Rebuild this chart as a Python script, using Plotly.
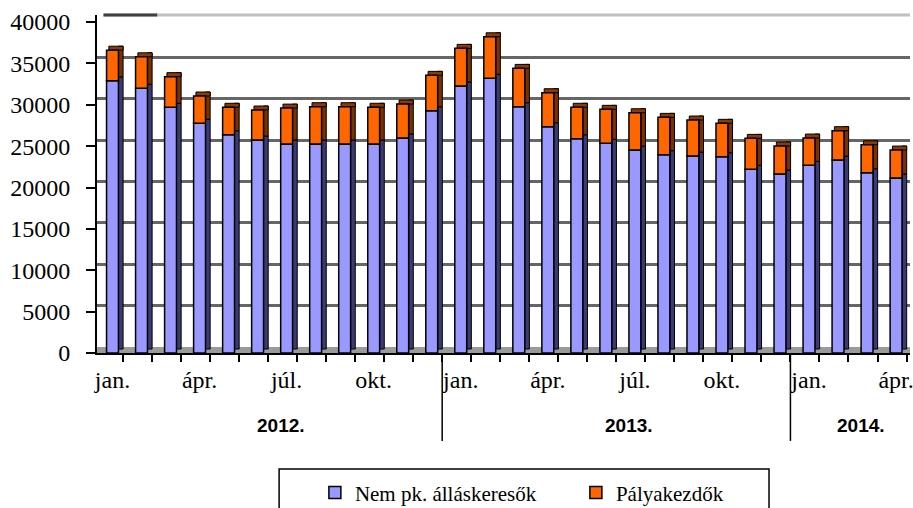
import numpy as np
import plotly.graph_objects as go

# ---------------- data ----------------
month_names = ['jan.', 'febr.', 'márc.', 'ápr.', 'máj.', 'jún.',
               'júl.', 'aug.', 'szept.', 'okt.', 'nov.', 'dec.']
years = ['2012.'] * 12 + ['2013.'] * 12 + ['2014.'] * 4
months = month_names * 2 + month_names[:4]

nem_pk = [32900, 32000, 29700, 27760, 26380, 25740, 25260, 25260, 25260, 25260, 25980, 29280,
          32270, 33200, 29770, 27350, 25900, 25340, 24530, 23970, 23810, 23720, 22200, 21630,
          22680, 23320, 21790, 21150]
palyakezdok = [3700, 3800, 3700, 3300, 3320, 3630, 4340, 4510, 4510, 4440, 4110, 4280,
               4550, 5020, 4630, 4110, 3800, 4110, 4510, 4510, 4350, 4040, 3740, 3390,
               3300, 3550, 3380, 3380]

y_ticks = [0, 5000, 10000, 15000, 20000, 25000, 30000, 35000, 40000]
labelled_months = ['jan.', 'ápr.', 'júl.', 'okt.']

# ---------------- derived ----------------
n = len(months)
x = np.arange(n)
blue = np.array(nem_pk, dtype=float)
orange = np.array(palyakezdok, dtype=float)
total = blue + orange

DEPTH = 480          # 3-D depth in value units
WALL = 725           # back-wall shift in value units
FW = 0.41            # front face width
SW = 0.16            # side face width
SEP = 0.36           # category boundary offset from bar centre
SERIF = "Liberation Serif"
XRANGE = [-0.534, 27.48]
YMAX = 40850

tick_idx = [i for i, m in enumerate(months) if m in labelled_months]
tick_txt = [months[i] for i in tick_idx]

fig = go.Figure()

# side faces (3-D effect)
fig.add_trace(go.Bar(x=x, y=blue, base=np.full(n, DEPTH), offset=FW / 2, width=SW,
                     marker=dict(color='#3b3b73', line=dict(color='black', width=1)),
                     showlegend=False, hoverinfo='skip'))
fig.add_trace(go.Bar(x=x, y=orange, base=blue + DEPTH, offset=FW / 2, width=SW,
                     marker=dict(color='#7a3000', line=dict(color='black', width=1)),
                     showlegend=False, hoverinfo='skip'))
# top faces
fig.add_trace(go.Bar(x=x, y=np.full(n, DEPTH), base=total, offset=-FW / 2 + 0.08, width=FW + SW - 0.08,
                     marker=dict(color='#8c3a00', line=dict(color='black', width=1)),
                     showlegend=False, hoverinfo='skip'))
# front faces
fig.add_trace(go.Bar(x=x, y=blue, base=np.zeros(n), offset=-FW / 2, width=FW,
                     name='Nem pk. álláskeresők',
                     marker=dict(color='#9999FF', line=dict(color='black', width=1.5))))
fig.add_trace(go.Bar(x=x, y=orange, base=blue, offset=-FW / 2, width=FW,
                     name='Pályakezdők',
                     marker=dict(color='#FF6600', line=dict(color='black', width=1.5))))

# invisible trace to anchor the month-label axis and the back-wall grid axis
fig.add_trace(go.Scatter(x=[0], y=[0], xaxis='x2', yaxis='y2', mode='markers',
                         marker=dict(opacity=0), showlegend=False, hoverinfo='skip'))

# year labels and separators
shapes = []
annotations = []
year_order = []
for y in years:
    if y not in year_order:
        year_order.append(y)
for yr in year_order:
    idx = [i for i, v in enumerate(years) if v == yr]
    annotations.append(dict(x=float(np.mean(idx)) + 0.3, xref='x', y=-0.215, yref='paper',
                            yanchor='middle',
                            text='<b>' + yr + '</b>', showarrow=False,
                            font=dict(family='Liberation Sans', size=19, color='black')))
    if idx[0] > 0:
        shapes.append(dict(type='line', xref='x', yref='paper', x0=idx[0] - 1 + SEP, x1=idx[0] - 1 + SEP,
                           y0=0, y1=-0.26, line=dict(color='black', width=1.5)))

# floor
shapes.append(dict(type='rect', xref='paper', yref='y', x0=0, x1=1, y0=0, y1=WALL,
                   fillcolor='#9a9a9a', line=dict(width=0), layer='below'))
# top edge of back wall
shapes.append(dict(type='line', xref='paper', yref='paper', x0=0.008, x1=1, y0=1, y1=1,
                   line=dict(color='#c0c0c0', width=3)))
shapes.append(dict(type='line', xref='paper', yref='paper', x0=0.008, x1=0.074, y0=1, y1=1,
                   line=dict(color='#404040', width=3)))
# legend box
shapes.append(dict(type='rect', xref='paper', yref='paper', x0=0.224, x1=0.8266, y0=-0.343, y1=-0.52,
                   line=dict(color='black', width=1.5), fillcolor='white'))

fig.update_layout(
    width=913, height=508,
    margin=dict(l=97, r=3, t=15, b=155, autoexpand=False),
    paper_bgcolor='white', plot_bgcolor='white',
    barmode='overlay',
    showlegend=True,
    legend=dict(orientation='h', x=0.268, xanchor='left', y=-0.414, yanchor='middle',
                font=dict(family=SERIF, size=21, color='black'),
                bgcolor='rgba(0,0,0,0)', entrywidth=216, traceorder='normal'),
    xaxis=dict(range=XRANGE, tick0=SEP, dtick=1, ticks='outside', ticklen=7, tickcolor='black',
               tickwidth=1.5, showticklabels=False, automargin=False,
               showgrid=False, zeroline=False, showline=True, linecolor='black', linewidth=2),
    xaxis2=dict(range=XRANGE, overlaying='x', anchor='y', side='bottom',
                tickvals=tick_idx, ticktext=tick_txt, ticks='', ticklabelstandoff=10,
                ticklabeloverflow='allow',
                tickfont=dict(family=SERIF, size=24, color='black'), automargin=False,
                showgrid=False, zeroline=False, showline=False),
    yaxis=dict(range=[0, YMAX], tickvals=y_ticks, ticktext=[str(v) for v in y_ticks],
               ticks='outside', ticklen=9, tickcolor='black',
               tickwidth=1.5, ticklabelstandoff=11, automargin=False,
               tickfont=dict(family=SERIF, size=24, color='black'),
               showgrid=False, zeroline=False, showline=True, linecolor='black', linewidth=2),
    yaxis2=dict(overlaying='y', anchor='x', range=[-WALL, YMAX - WALL], tickvals=y_ticks[1:-1],
                showticklabels=False, showgrid=True, gridcolor='#666666', gridwidth=3,
                zeroline=False, showline=False, ticks='', automargin=False),
    shapes=shapes,
    annotations=annotations,
)

fig.write_html("out.html", config={'displayModeBar': False},
               post_script="document.body.style.margin='0';document.body.style.overflow='hidden';")
